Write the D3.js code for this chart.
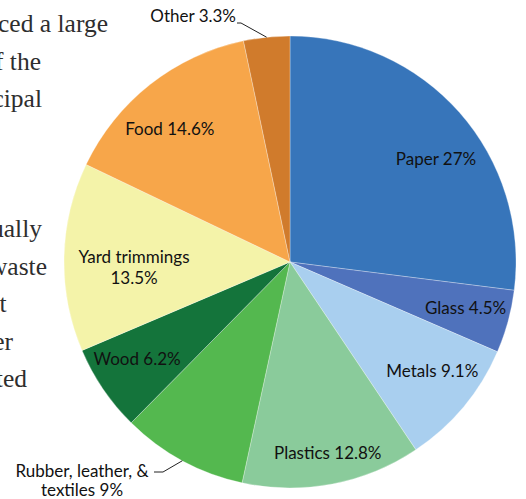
<!DOCTYPE html>
<html>
<head>
<meta charset="utf-8">
<script src="https://cdn.jsdelivr.net/npm/d3@7/dist/d3.min.js"></script>
<style>
  html, body { margin: 0; padding: 0; background: #fff; }
  svg { display: block; }
</style>
</head>
<body>
<script>
// Municipal solid waste composition (percent of total)
const categories = ["Paper", "Glass", "Metals", "Plastics", "Rubber, leather, & textiles",
                    "Wood", "Yard trimmings", "Food", "Other"];
const shares = [27, 4.5, 9.1, 12.8, 9, 6.2, 13.5, 14.6, 3.3];
const labelLines = [["Paper 27%"], ["Glass 4.5%"], ["Metals 9.1%"], ["Plastics 12.8%"],
                    ["Rubber, leather, &", "textiles 9%"], ["Wood 6.2%"],
                    ["Yard trimmings", "13.5%"], ["Food 14.6%"], ["Other 3.3%"]];
const colors = ["#3775ba", "#4f72bc", "#a9cfef", "#8acb9b", "#54b84f",
                "#14743b", "#f4f3a9", "#f7a64a", "#d07b2c"];

// Line endings of the surrounding article text, clipped by the left edge
const proseLines = ["produced a large", "of the", "municipal", "annually", "waste", "at", "ther", "rated"];

const W = 526, H = 499;
const cx = 290, cy = 262, R = 226;

const svg = d3.select("body").append("svg")
  .attr("width", W).attr("height", H);

// Article text behind the chart
const proseBaselines = [31.5, 69.5, 107, 237, 274.5, 312, 349.5, 387];
const proseEnds = [108, 41, 42, 42, 47, 6.5, 13, 27];
svg.append("g")
  .selectAll("text")
  .data(proseLines)
  .join("text")
  .attr("x", (d, i) => proseEnds[i])
  .attr("y", (d, i) => proseBaselines[i])
  .attr("text-anchor", "end")
  .attr("font-family", "'Liberation Serif', serif")
  .attr("font-size", 25.5)
  .attr("fill", "#2e2e2e")
  .text(d => d);

const data = categories.map((c, i) => ({ name: c, value: shares[i], lines: labelLines[i], color: colors[i] }));

const pie = d3.pie().sort(null).value(d => d.value).startAngle(0).endAngle(2 * Math.PI);
const arcs = pie(data);
const arc = d3.arc().innerRadius(0).outerRadius(R);

const g = svg.append("g").attr("transform", `translate(${cx},${cy})`);

g.selectAll("path")
  .data(arcs)
  .join("path")
  .attr("d", arc)
  .attr("fill", d => d.data.color)
  .attr("stroke", "#ffffff")
  .attr("stroke-width", 0.3);

// Point on a circle of radius r at a pie angle (0 = 12 o'clock, clockwise)
const polar = (a, r) => [r * Math.sin(a), -r * Math.cos(a)];
const mid = d => (d.startAngle + d.endAngle) / 2;

// Inside labels: radius 180 from the centre, with small nudges
const nudge = {
  "Paper": [11, 16], "Glass": [2, -2], "Metals": [4, -6], "Plastics": [4, 14],
  "Wood": [-4, -4], "Yard trimmings": [24, 9], "Food": [-9, 8]
};
const labelFont = "Lato, 'Open Sans', sans-serif";
const labelSize = 17;

const inside = arcs.filter(d => nudge[d.data.name]);
inside.forEach(d => {
  const [px, py] = polar(mid(d), 180);
  const [nx, ny] = nudge[d.data.name];
  const n = d.data.lines.length;
  const t = g.append("text")
    .attr("text-anchor", "middle")
    .attr("font-family", labelFont)
    .attr("font-size", labelSize)
    .attr("fill", "#111");
  d.data.lines.forEach((line, k) => {
    t.append("tspan")
      .attr("x", px + nx)
      .attr("y", py + ny + (k - (n - 1) / 2) * 21)
      .attr("dy", "0.36em")
      .text(line);
  });
});

// Outside labels with leader lines to the rim
const outside = {
  "Other": { elbow: [241, 23], start: [237, 23], text: [236, 22], anchor: "end" },
  "Rubber, leather, & textiles": { elbow: [163, 472], start: [154, 472], text: [82, 476.5], anchor: "middle" }
};
arcs.filter(d => outside[d.data.name]).forEach(d => {
  const o = outside[d.data.name];
  const [rx, ry] = polar(mid(d), R);
  const pts = [[o.start[0] - cx, o.start[1] - cy], [o.elbow[0] - cx, o.elbow[1] - cy], [rx, ry]];
  g.append("path")
    .attr("d", d3.line()(pts))
    .attr("fill", "none")
    .attr("stroke", "#222")
    .attr("stroke-width", 1);
  const t = g.append("text")
    .attr("text-anchor", o.anchor)
    .attr("font-family", labelFont)
    .attr("font-size", labelSize)
    .attr("fill", "#111");
  d.data.lines.forEach((line, k) => {
    t.append("tspan")
      .attr("x", o.text[0] - cx)
      .attr("y", o.text[1] - cy + k * 19.5)
      .text(line);
  });
});
</script>
</body>
</html>
